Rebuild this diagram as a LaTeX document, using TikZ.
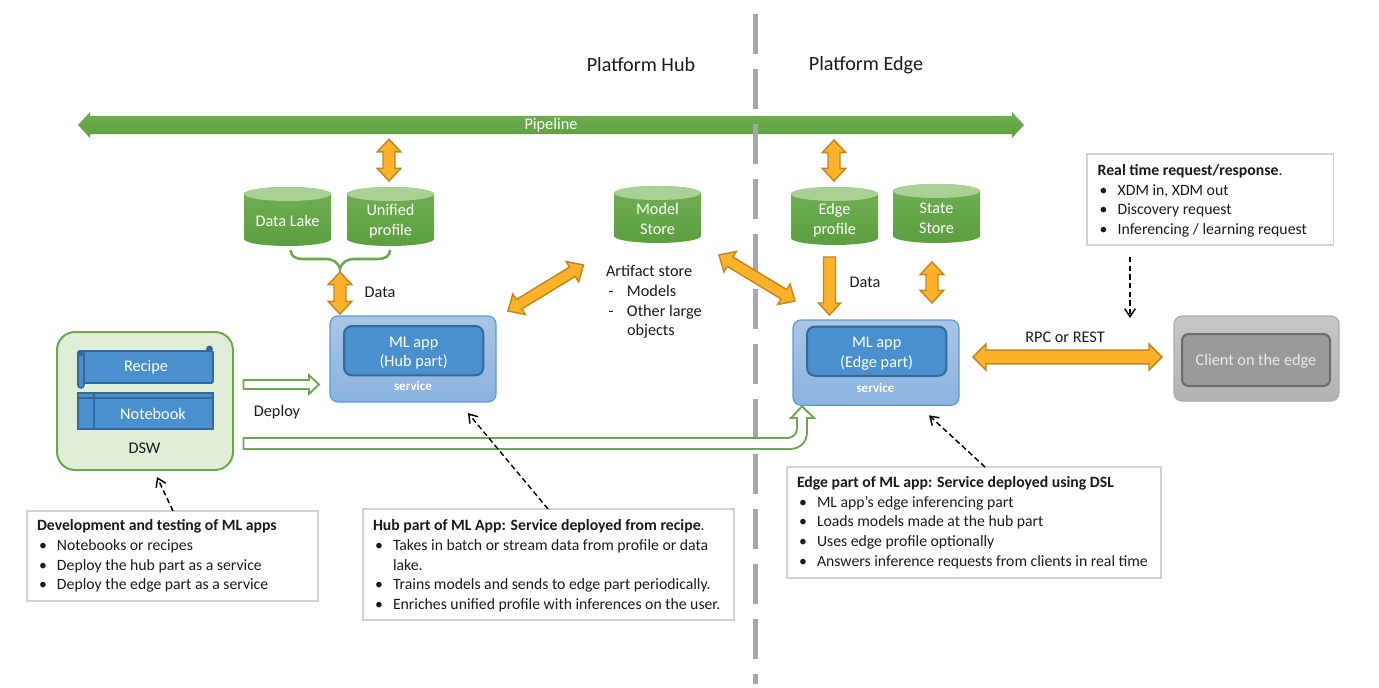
\documentclass[tikz,border=0pt]{standalone}
\usepackage{fontspec}
\setmainfont{Carlito}
\usetikzlibrary{calc,arrows.meta}
\definecolor{ink}{HTML}{1A1A1A}
\definecolor{grn}{HTML}{6AA84F}
\definecolor{grnT}{HTML}{70B052}
\definecolor{grnB}{HTML}{5C9E40}
\definecolor{grnL}{HTML}{A9D095}
\definecolor{dswbg}{HTML}{E0EED8}
\definecolor{org}{HTML}{FDB22A}
\definecolor{orgD}{HTML}{C4861F}
\definecolor{blu}{HTML}{4A90CE}
\definecolor{bluD}{HTML}{35679A}
\definecolor{svcT}{HTML}{A8C5E6}
\definecolor{svcB}{HTML}{8BB3DF}
\definecolor{svcD}{HTML}{5B9BD5}
\definecolor{gline}{HTML}{A6A6A6}
\newcommand\fs{\fontsize{11.8pt}{14.8pt}\selectfont}
\newcommand\fb{\fontsize{15.1pt}{18pt}\selectfont}
\newcommand\fm{\fontsize{12.2pt}{14.8pt}\selectfont}
\newcommand\bl{\makebox[15pt][l]{\hspace{1.5pt}•}}
\newcommand\dsh{\makebox[15.75pt][l]{\hspace{2pt}-}}
% double block arrow: from, to, shaft half, head half, head length, style
\newcommand\dblarrow[6]{%
  \coordinate (dA) at #1; \coordinate (dB) at #2;
  \path[#6] (dA) -- ($(dA)!#5!(dB)!#4!90:(dB)$) -- ($(dA)!#5!(dB)!#3!90:(dB)$)
   -- ($(dB)!#5!(dA)!#3!-90:(dA)$) -- ($(dB)!#5!(dA)!#4!-90:(dA)$) -- (dB)
   -- ($(dB)!#5!(dA)!#4!90:(dA)$) -- ($(dB)!#5!(dA)!#3!90:(dA)$)
   -- ($(dA)!#5!(dB)!#3!-90:(dB)$) -- ($(dA)!#5!(dB)!#4!-90:(dB)$) -- cycle;}
% single block arrow
\newcommand\sglarrow[6]{%
  \coordinate (dA) at #1; \coordinate (dB) at #2;
  \path[#6] ($(dA)!#3!90:(dB)$) -- ($(dB)!#5!(dA)!#3!-90:(dA)$) -- ($(dB)!#5!(dA)!#4!-90:(dA)$) -- (dB)
   -- ($(dB)!#5!(dA)!#4!90:(dA)$) -- ($(dB)!#5!(dA)!#3!90:(dA)$) -- ($(dA)!#3!-90:(dB)$) -- cycle;}
% cylinder: name, x, y, height, text
\newcommand\cyl[5]{%
  \begin{scope}[shift={(#2,#3)}]
  \path[top color=grnT,bottom color=grnB] (0,7) -- (0,#4-7) .. controls +(0,3.85) and +(-24,0) .. (43.5,#4)
    .. controls +(24,0) and +(0,3.85) .. (87,#4-7) -- (87,7) .. controls +(0,-3.85) and +(24,0) .. (43.5,0)
    .. controls +(-24,0) and +(0,-3.85) .. cycle;
  \path[fill=grnL] (43.5,7) ellipse [x radius=32.6pt,y radius=5.25pt];
  \node[cyltext,minimum height={(#4-9)*.75pt}] (#1) at (43.5,{#4/2+4.5}) {#5};
  \end{scope}}
\tikzset{
  x=.75pt,y=-.75pt,
  every node/.style={outer sep=0pt,inner sep=0pt,text=ink,font=\fs},
  cyltext/.style={minimum width=65.25pt,text=white,align=flush center,font=\fm},
  svcbox/.style={anchor=north west,rounded corners=6pt,top color=svcT,bottom color=svcB,draw=svcD,line width=.9pt,minimum width=124.5pt},
  appbox/.style={anchor=north west,rounded corners=6pt,fill=blu,draw=bluD,line width=1.5pt,minimum width=104.5pt,minimum height=37pt},
  apptext/.style={text=white,align=flush center,font=\fm},
  notebox/.style={anchor=north west,draw=black!18,line width=.8pt,inner xsep=7.5pt,align=flush left},
  lbl/.style={text=ink,font=\fm},
  wlbl/.style={text=white,font=\fm},
  svctag/.style={text=white,font=\bfseries\fontsize{9.8pt}{11pt}\selectfont},
  orange/.style={fill=org,draw=orgD,line width=1.1pt,line join=miter},
  hollow/.style={fill=white,draw=grn,line width=1.4pt},
  dashar/.style={draw=black,line width=1.1pt,dash pattern=on 4pt off 2.5pt,-{Straight Barb[length=6pt,width=8pt,line width=1.1pt]}},
  curved/.style={draw=grn,line width=1.9pt},
  scrollpart/.style={fill=blu,draw=bluD,line width=1.2pt},
}
\begin{document}
\begin{tikzpicture}
\useasboundingbox (0,0) rectangle (1379,688);
% pipeline
\node[minimum width=709.5pt,minimum height=13.9pt] (pipe) at (551,125) {};
\dblarrow{(pipe.west)}{(pipe.east)}{6.9pt}{9.75pt}{9pt}{top color=grnT,bottom color=grnB}
\node[wlbl] (pipelabel) at (pipe.center) {Pipeline};
% divider
\coordinate (divtop) at (755,14);
\coordinate (divbot) at (755,684);
\draw[gline,line width=3.75pt,dash pattern=on 30pt off 11.25pt] (divtop) -- (divbot);
% headings
\node[font=\fb] (hubhead) at (641,65) {Platform Hub};
\node[font=\fb] (edgehead) at (866,65) {Platform Edge};
% stores
\cyl{dl}{244}{187}{59}{Data Lake}
\cyl{up}{347}{187}{59}{Unified\\profile}
\cyl{model}{614}{186}{57}{Model\\Store}
\cyl{edgep}{791}{187}{58}{Edge\\profile}
\cyl{state}{893}{184}{59}{State\\Store}
% services
\node[svcbox,minimum height=64.5pt] (hubsvc) at (330,316) {};
\node[appbox] (hubapp) at (344,326) {};
\node[apptext] (hubtext) at ($(hubapp.center)+(0,2.5)$) {ML app\\(Hub part)};
\node[svctag] (hubtag) at (413,386) {service};
\node[svcbox,minimum height=64pt] (edgesvc) at (793,320) {};
\node[appbox] (edgeapp) at (807,326.5) {};
\node[apptext] (edgetext) at ($(edgeapp.center)+(0,2.5)$) {ML app\\(Edge part)};
\node[svctag] (edgetag) at (875.5,388) {service};
% DSW
\node[anchor=north west,rounded corners=13.5pt,fill=dswbg,draw=grn,line width=1.5pt,minimum width=132pt,minimum height=103.5pt] (dsw) at (57,332) {};
\node[anchor=north west,scrollpart,rounded corners=1pt,minimum width=101.25pt,minimum height=24pt] (recipe) at (78,351) {};
\path[scrollpart,rounded corners=2.2pt] (78,351) rectangle (84,388);
\path[fill=bluD] (80.5,353.5) circle [radius=2pt];
\path[fill=bluD] (209.5,349) circle [radius=2.6pt];
\node[wlbl] (recipelabel) at (146,367.5) {Recipe};
\node[anchor=north west,scrollpart,minimum width=101.25pt,minimum height=27pt] (note) at (78,393) {};
\draw[bluD,line width=1.1pt] ($(note.north west)+(0,5)$) -- ($(note.north east)+(0,5)$);
\draw[bluD,line width=1.1pt] ($(note.north west)+(16,0)$) -- ($(note.south west)+(16,0)$);
\node[wlbl] (notelabel) at (153,414) {Notebook};
\node[lbl] (dswlabel) at (144.5,448) {DSW};
% client
\node[anchor=north west,rounded corners=6pt,top color=black!22,bottom color=black!30,draw=black!33,line width=.9pt,minimum width=123.75pt,minimum height=63.75pt] (client) at (1174,316) {};
\node[anchor=north west,rounded corners=5pt,fill=black!40,draw=black!58,line width=1.5pt,minimum width=111pt,minimum height=39pt] (clientin) at (1182,334) {};
\node[text=white!92!black,font=\fm] (clienttext) at ($(clientin.center)+(0,1)$) {Client on the edge};
% plain labels
\node[lbl] (data1) at (380,292) {Data};
\node[lbl] (data2) at (865,282) {Data};
\node[lbl] (deploy) at (277,412) {Deploy};
\node[lbl] (rpc) at (1065,337) {RPC or REST};
\node[anchor=north west,align=flush left,font=\fm] (art) at (606,265.5) {Artifact store\\\dsh Models\\\dsh Other large\\\hspace*{15.75pt}objects};
% brace
\coordinate (bj) at ($(hubsvc.north west)+(10,-47)$);
\draw[curved] ($(dl.south)+(3,4)$) .. controls +(.5,6) and (295,259) .. (303,259) -- (325,259)
  .. controls (333,259) and (338,262) .. (bj) .. controls (342,262) and (347,259) .. (355,259) -- (378,259)
  .. controls (385,259) and (390,256) .. ($(up.south)+(-.5,4)$);
% orange arrows
\dblarrow{($(pipe.south west)+(311,5)$)}{($(up.north)+(-1.5,-15)$)}{4.5pt}{8.8pt}{9.4pt}{orange}
\dblarrow{($(bj)+(0,3)$)}{($(hubsvc.north west)+(10,-2)$)}{4.5pt}{8.8pt}{9.4pt}{orange}
\dblarrow{($(pipe.south west)+(756,5.75)$)}{($(edgep.north)+(-.5,-15)$)}{4.5pt}{8.8pt}{9.4pt}{orange}
\dblarrow{($(state.south)+(-4.5,19)$)}{($(edgesvc.north west)+(139,-17)$)}{4.5pt}{8.8pt}{9.4pt}{orange}
\sglarrow{($(edgep.south)+(-5,12)$)}{($(edgesvc.north west)+(36.5,-5)$)}{4.5pt}{8.3pt}{9pt}{orange}
\dblarrow{($(hubsvc.north east)+(12,-5)$)}{($(model.south)+(-74,22)$)}{4.1pt}{9pt}{9.75pt}{orange}
\dblarrow{($(model.south)+(61.5,12)$)}{($(edgesvc.north west)+(2,-19)$)}{4.1pt}{9pt}{9.75pt}{orange}
\dblarrow{($(edgesvc.east)+(14,-5.67)$)}{($(client.west)+(-12,-1.5)$)}{5.2pt}{9.75pt}{9.75pt}{orange}
% deploy arrows
\sglarrow{($(dsw.north east)+(10.5,52.5)$)}{($(hubsvc.south west)+(-11,-17.5)$)}{3.4pt}{7pt}{7.5pt}{hollow}
\coordinate (d2s) at ($(dsw.south east)+(10.5,-32)$);
\coordinate (d2t) at ($(edgesvc.south west)+(9,1)$);
\path[hollow] (d2s) -- (787,438) .. controls (793,438) and (797,434) .. (797,428) -- (797,418) -- (791,418)
  -- (d2t) -- (814,418) -- (807,418) -- (807,432) .. controls (807,442) and (800,449) .. (790,449) -- (243.5,449) -- cycle;
% note boxes
\node[notebox,text width=203.25pt,minimum height=67.5pt] (devbox) at (27,511) {\textbf{Development and testing of ML apps}\\\bl Notebooks or recipes\\\bl Deploy the hub part as a service\\\bl Deploy the edge part as a service};
\node[notebox,text width=263.25pt,minimum height=83.25pt] (hubbox) at (363,509) {\rule{0pt}{10.3pt}\textbf{Hub part of ML App: Service deployed from recipe}.\\\bl Takes in batch or stream data from profile or data\\\hspace*{15pt}lake.\\\bl Trains models and sends to edge part periodically.\\\bl Enriches unified profile with inferences on the user.};
\node[notebox,text width=265.5pt,minimum height=83.25pt] (edgebox) at (787,467) {\textbf{Edge part of ML app: Service deployed using DSL}\\\bl ML app's edge inferencing part\\\bl Loads models made at the hub part\\\bl Uses edge profile optionally\\\bl Answers inference requests from clients in real time};
\node[notebox,text width=168.75pt,minimum height=68.25pt,inner xsep=8pt] (realbox) at (1087,154) {\rule{0pt}{10.3pt}\textbf{Real time request/response}.\\\bl XDM in, XDM out\\\bl Discovery request\\\bl Inferencing / learning request};
% dashed pointers
\draw[dashar] ($(devbox.north west)+(146,0)$) -- ($(dsw.south west)+(100,7)$);
\draw[dashar] ($(hubbox.north west)+(185,0)$) -- ($(hubsvc.south west)+(138,11)$);
\draw[dashar] ($(edgebox.north west)+(198,0)$) -- ($(edgesvc.south west)+(136,10)$);
\draw[dashar] ($(realbox.south west)+(43,12)$) -- ($(client.north west)+(-44,2)$);
\end{tikzpicture}
\end{document}
